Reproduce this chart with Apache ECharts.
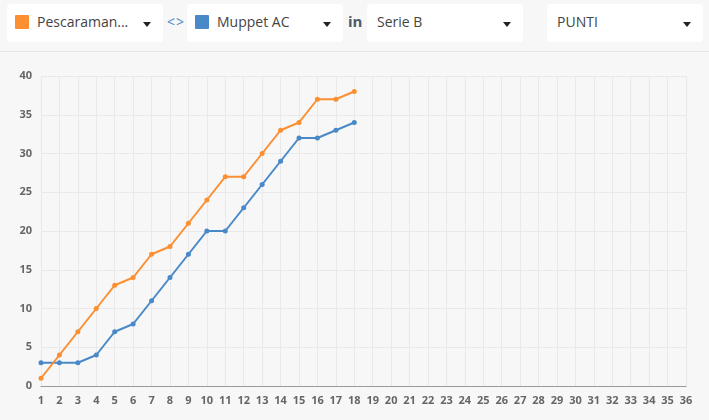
<!DOCTYPE html>
<html><head><meta charset="utf-8">
<script src="https://cdn.jsdelivr.net/npm/echarts@6/dist/echarts.min.js"></script>
<style>
html,body{margin:0;padding:0;width:709px;height:420px;background:#f7f7f7;overflow:hidden;font-family:"Open Sans",sans-serif;}
#hdr{position:absolute;left:0;top:0;width:709px;height:51px;border-bottom:1px solid #e6e6e6;}
.box{position:absolute;top:4px;height:38px;width:156px;background:#fff;border-radius:4px;}
.sq{position:absolute;left:8px;top:11px;width:14px;height:14px;border-radius:1px;}
.txt{position:absolute;top:9px;font-size:14px;color:#444;line-height:18px;}
.arr{position:absolute;right:12px;top:18px;width:0;height:0;border-left:4px solid transparent;border-right:4px solid transparent;border-top:5px solid #222;}
#sep{position:absolute;left:167px;top:12px;font-size:14px;color:#4a89c8;font-weight:400;letter-spacing:1px;}
#in{position:absolute;left:348px;top:11px;font-size:15px;color:#4e5a6a;font-weight:700;}
#chart{position:absolute;left:0;top:52px;width:709px;height:368px;}
</style></head>
<body>
<div id="hdr">
  <div class="box" style="left:7px"><div class="sq" style="background:#fb8f32"></div><div class="txt" style="left:30px">Pescaraman...</div><div class="arr"></div></div>
  <div id="sep">&lt;&gt;</div>
  <div class="box" style="left:187px"><div class="sq" style="background:#4a89c8"></div><div class="txt" style="left:30px">Muppet AC</div><div class="arr"></div></div>
  <div id="in">in</div>
  <div class="box" style="left:367px"><div class="txt" style="left:10px">Serie B</div><div class="arr"></div></div>
  <div class="box" style="left:547px"><div class="txt" style="left:10px">PUNTI</div><div class="arr"></div></div>
</div>
<div id="chart"></div>
<script>
var rounds = [];
for (var i = 1; i <= 36; i++) rounds.push(String(i));
var pescaraPoints = [1,4,7,10,13,14,17,18,21,24,27,27,30,33,34,37,37,38];
var muppetPoints = [3,3,3,4,7,8,11,14,17,20,20,23,26,29,32,32,33,34];
var orange = '#fb8f32', blue = '#4a89c8';
var chart = echarts.init(document.getElementById('chart'));
chart.setOption({
  animation:false,
  backgroundColor:'#f7f7f7',
  grid:{left:41,right:23,top:24,bottom:34,containLabel:false},
  xAxis:{type:'category',data:rounds,boundaryGap:false,
    axisLine:{lineStyle:{color:'#999',width:1}},axisTick:{show:false},
    axisLabel:{interval:0,color:'#666',fontFamily:'Open Sans',fontWeight:'bold',fontSize:11,margin:9},
    splitLine:{show:true,lineStyle:{color:'#e9e9e9',width:1}}},
  yAxis:{type:'value',min:0,max:40,interval:5,
    axisLine:{show:false},axisTick:{show:false},
    axisLabel:{color:'#666',fontFamily:'Open Sans',fontWeight:'bold',fontSize:11,margin:9},
    splitLine:{lineStyle:{color:'#e9e9e9',width:1}}},
  series:[
    {name:'Muppet AC',type:'line',data:muppetPoints,symbol:'circle',symbolSize:5,
     lineStyle:{color:blue,width:2},itemStyle:{color:blue}},
    {name:'Pescaraman',type:'line',data:pescaraPoints,symbol:'circle',symbolSize:5,
     lineStyle:{color:orange,width:2},itemStyle:{color:orange}}
  ]
});
</script>
</body></html>
